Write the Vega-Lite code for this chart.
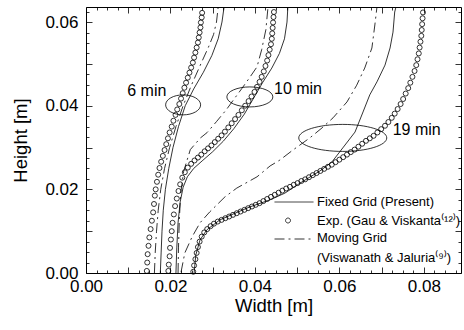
{
  "$schema": "https://vega.github.io/schema/vega-lite/v6.json",
  "width": 375,
  "height": 266,
  "autosize": {"type": "none"},
  "padding": {"left": 86, "top": 7, "right": 3, "bottom": 57},
  "config": {
    "font": "Liberation Sans",
    "view": {"stroke": "black", "strokeWidth": 1},
    "axis": {"grid": false, "domain": false, "tickColor": "black", "labelColor": "black", "titleColor": "black", "titleFontWeight": "normal", "tickWidth": 0.8}
  },
  "datasets": {
    "curves": [
      {"time":"6 min","method":"Exp","x":0.0144,"y":0.0005},{"time":"6 min","method":"Exp","x":0.0145,"y":0.0025},{"time":"6 min","method":"Exp","x":0.0146,"y":0.0045},{"time":"6 min","method":"Exp","x":0.0148,"y":0.0065},{"time":"6 min","method":"Exp","x":0.0150,"y":0.0085},{"time":"6 min","method":"Exp","x":0.0153,"y":0.0105},{"time":"6 min","method":"Exp","x":0.0156,"y":0.0125},{"time":"6 min","method":"Exp","x":0.0159,"y":0.0145},{"time":"6 min","method":"Exp","x":0.0161,"y":0.0165},{"time":"6 min","method":"Exp","x":0.0163,"y":0.0185},{"time":"6 min","method":"Exp","x":0.0165,"y":0.0200},{"time":"6 min","method":"Exp","x":0.0168,"y":0.0218},{"time":"6 min","method":"Exp","x":0.0171,"y":0.0235},{"time":"6 min","method":"Exp","x":0.0174,"y":0.0251},{"time":"6 min","method":"Exp","x":0.0178,"y":0.0266},{"time":"6 min","method":"Exp","x":0.0182,"y":0.0280},{"time":"6 min","method":"Exp","x":0.0186,"y":0.0294},{"time":"6 min","method":"Exp","x":0.0190,"y":0.0308},{"time":"6 min","method":"Exp","x":0.0194,"y":0.0322},{"time":"6 min","method":"Exp","x":0.0198,"y":0.0336},{"time":"6 min","method":"Exp","x":0.0203,"y":0.0350},{"time":"6 min","method":"Exp","x":0.0207,"y":0.0364},{"time":"6 min","method":"Exp","x":0.0212,"y":0.0378},{"time":"6 min","method":"Exp","x":0.0216,"y":0.0391},{"time":"6 min","method":"Exp","x":0.0221,"y":0.0404},{"time":"6 min","method":"Exp","x":0.0225,"y":0.0417},{"time":"6 min","method":"Exp","x":0.0229,"y":0.0430},{"time":"6 min","method":"Exp","x":0.0233,"y":0.0443},{"time":"6 min","method":"Exp","x":0.0237,"y":0.0455},{"time":"6 min","method":"Exp","x":0.0241,"y":0.0467},{"time":"6 min","method":"Exp","x":0.0245,"y":0.0479},{"time":"6 min","method":"Exp","x":0.0249,"y":0.0491},{"time":"6 min","method":"Exp","x":0.0253,"y":0.0503},{"time":"6 min","method":"Exp","x":0.0256,"y":0.0515},{"time":"6 min","method":"Exp","x":0.0259,"y":0.0527},{"time":"6 min","method":"Exp","x":0.0262,"y":0.0539},{"time":"6 min","method":"Exp","x":0.0265,"y":0.0551},{"time":"6 min","method":"Exp","x":0.0267,"y":0.0563},{"time":"6 min","method":"Exp","x":0.0269,"y":0.0575},{"time":"6 min","method":"Exp","x":0.0271,"y":0.0587},{"time":"6 min","method":"Exp","x":0.0272,"y":0.0599},{"time":"6 min","method":"Exp","x":0.0274,"y":0.0611},{"time":"6 min","method":"Exp","x":0.0275,"y":0.0622},
      {"time":"10 min","method":"Exp","x":0.0195,"y":0.0005},{"time":"10 min","method":"Exp","x":0.0196,"y":0.0020},{"time":"10 min","method":"Exp","x":0.0198,"y":0.0040},{"time":"10 min","method":"Exp","x":0.0199,"y":0.0060},{"time":"10 min","method":"Exp","x":0.0201,"y":0.0080},{"time":"10 min","method":"Exp","x":0.0203,"y":0.0100},{"time":"10 min","method":"Exp","x":0.0205,"y":0.0120},{"time":"10 min","method":"Exp","x":0.0208,"y":0.0140},{"time":"10 min","method":"Exp","x":0.0211,"y":0.0160},{"time":"10 min","method":"Exp","x":0.0215,"y":0.0178},{"time":"10 min","method":"Exp","x":0.0219,"y":0.0196},{"time":"10 min","method":"Exp","x":0.0223,"y":0.0212},{"time":"10 min","method":"Exp","x":0.0228,"y":0.0228},{"time":"10 min","method":"Exp","x":0.0234,"y":0.0241},{"time":"10 min","method":"Exp","x":0.0241,"y":0.0252},{"time":"10 min","method":"Exp","x":0.0249,"y":0.0261},{"time":"10 min","method":"Exp","x":0.0257,"y":0.0269},{"time":"10 min","method":"Exp","x":0.0265,"y":0.0276},{"time":"10 min","method":"Exp","x":0.0273,"y":0.0283},{"time":"10 min","method":"Exp","x":0.0281,"y":0.0291},{"time":"10 min","method":"Exp","x":0.0289,"y":0.0298},{"time":"10 min","method":"Exp","x":0.0297,"y":0.0305},{"time":"10 min","method":"Exp","x":0.0305,"y":0.0313},{"time":"10 min","method":"Exp","x":0.0313,"y":0.0321},{"time":"10 min","method":"Exp","x":0.0321,"y":0.0329},{"time":"10 min","method":"Exp","x":0.0329,"y":0.0338},{"time":"10 min","method":"Exp","x":0.0337,"y":0.0348},{"time":"10 min","method":"Exp","x":0.0345,"y":0.0358},{"time":"10 min","method":"Exp","x":0.0353,"y":0.0368},{"time":"10 min","method":"Exp","x":0.0361,"y":0.0378},{"time":"10 min","method":"Exp","x":0.0369,"y":0.0389},{"time":"10 min","method":"Exp","x":0.0377,"y":0.0400},{"time":"10 min","method":"Exp","x":0.0385,"y":0.0411},{"time":"10 min","method":"Exp","x":0.0392,"y":0.0422},{"time":"10 min","method":"Exp","x":0.0399,"y":0.0433},{"time":"10 min","method":"Exp","x":0.0405,"y":0.0445},{"time":"10 min","method":"Exp","x":0.0411,"y":0.0457},{"time":"10 min","method":"Exp","x":0.0416,"y":0.0469},{"time":"10 min","method":"Exp","x":0.0421,"y":0.0482},{"time":"10 min","method":"Exp","x":0.0425,"y":0.0495},{"time":"10 min","method":"Exp","x":0.0429,"y":0.0508},{"time":"10 min","method":"Exp","x":0.0432,"y":0.0521},{"time":"10 min","method":"Exp","x":0.0435,"y":0.0534},{"time":"10 min","method":"Exp","x":0.0438,"y":0.0547},{"time":"10 min","method":"Exp","x":0.0440,"y":0.0560},{"time":"10 min","method":"Exp","x":0.0441,"y":0.0573},{"time":"10 min","method":"Exp","x":0.0442,"y":0.0586},{"time":"10 min","method":"Exp","x":0.0443,"y":0.0599},{"time":"10 min","method":"Exp","x":0.0444,"y":0.0612},{"time":"10 min","method":"Exp","x":0.0445,"y":0.0624},
      {"time":"19 min","method":"Exp","x":0.0254,"y":0.0003},{"time":"19 min","method":"Exp","x":0.0256,"y":0.0018},{"time":"19 min","method":"Exp","x":0.0259,"y":0.0033},{"time":"19 min","method":"Exp","x":0.0262,"y":0.0048},{"time":"19 min","method":"Exp","x":0.0265,"y":0.0062},{"time":"19 min","method":"Exp","x":0.0269,"y":0.0075},{"time":"19 min","method":"Exp","x":0.0274,"y":0.0087},{"time":"19 min","method":"Exp","x":0.0280,"y":0.0097},{"time":"19 min","method":"Exp","x":0.0287,"y":0.0105},{"time":"19 min","method":"Exp","x":0.0295,"y":0.0112},{"time":"19 min","method":"Exp","x":0.0303,"y":0.0118},{"time":"19 min","method":"Exp","x":0.0312,"y":0.0123},{"time":"19 min","method":"Exp","x":0.0321,"y":0.0127},{"time":"19 min","method":"Exp","x":0.0330,"y":0.0131},{"time":"19 min","method":"Exp","x":0.0339,"y":0.0135},{"time":"19 min","method":"Exp","x":0.0348,"y":0.0139},{"time":"19 min","method":"Exp","x":0.0357,"y":0.0143},{"time":"19 min","method":"Exp","x":0.0366,"y":0.0147},{"time":"19 min","method":"Exp","x":0.0375,"y":0.0151},{"time":"19 min","method":"Exp","x":0.0384,"y":0.0155},{"time":"19 min","method":"Exp","x":0.0393,"y":0.0159},{"time":"19 min","method":"Exp","x":0.0402,"y":0.0163},{"time":"19 min","method":"Exp","x":0.0411,"y":0.0167},{"time":"19 min","method":"Exp","x":0.0420,"y":0.0172},{"time":"19 min","method":"Exp","x":0.0429,"y":0.0177},{"time":"19 min","method":"Exp","x":0.0438,"y":0.0182},{"time":"19 min","method":"Exp","x":0.0447,"y":0.0187},{"time":"19 min","method":"Exp","x":0.0456,"y":0.0192},{"time":"19 min","method":"Exp","x":0.0465,"y":0.0197},{"time":"19 min","method":"Exp","x":0.0474,"y":0.0202},{"time":"19 min","method":"Exp","x":0.0483,"y":0.0206},{"time":"19 min","method":"Exp","x":0.0492,"y":0.0211},{"time":"19 min","method":"Exp","x":0.0501,"y":0.0215},{"time":"19 min","method":"Exp","x":0.0510,"y":0.0220},{"time":"19 min","method":"Exp","x":0.0519,"y":0.0224},{"time":"19 min","method":"Exp","x":0.0528,"y":0.0229},{"time":"19 min","method":"Exp","x":0.0537,"y":0.0234},{"time":"19 min","method":"Exp","x":0.0546,"y":0.0239},{"time":"19 min","method":"Exp","x":0.0555,"y":0.0244},{"time":"19 min","method":"Exp","x":0.0564,"y":0.0249},{"time":"19 min","method":"Exp","x":0.0573,"y":0.0254},{"time":"19 min","method":"Exp","x":0.0582,"y":0.0259},{"time":"19 min","method":"Exp","x":0.0591,"y":0.0265},{"time":"19 min","method":"Exp","x":0.0600,"y":0.0271},{"time":"19 min","method":"Exp","x":0.0609,"y":0.0277},{"time":"19 min","method":"Exp","x":0.0618,"y":0.0283},{"time":"19 min","method":"Exp","x":0.0627,"y":0.0289},{"time":"19 min","method":"Exp","x":0.0636,"y":0.0295},{"time":"19 min","method":"Exp","x":0.0645,"y":0.0302},{"time":"19 min","method":"Exp","x":0.0654,"y":0.0309},{"time":"19 min","method":"Exp","x":0.0663,"y":0.0316},{"time":"19 min","method":"Exp","x":0.0672,"y":0.0322},{"time":"19 min","method":"Exp","x":0.0681,"y":0.0328},{"time":"19 min","method":"Exp","x":0.0690,"y":0.0336},{"time":"19 min","method":"Exp","x":0.0699,"y":0.0344},{"time":"19 min","method":"Exp","x":0.0708,"y":0.0352},{"time":"19 min","method":"Exp","x":0.0716,"y":0.0361},{"time":"19 min","method":"Exp","x":0.0724,"y":0.0371},{"time":"19 min","method":"Exp","x":0.0731,"y":0.0381},{"time":"19 min","method":"Exp","x":0.0738,"y":0.0392},{"time":"19 min","method":"Exp","x":0.0745,"y":0.0404},{"time":"19 min","method":"Exp","x":0.0751,"y":0.0416},{"time":"19 min","method":"Exp","x":0.0757,"y":0.0429},{"time":"19 min","method":"Exp","x":0.0763,"y":0.0442},{"time":"19 min","method":"Exp","x":0.0768,"y":0.0455},{"time":"19 min","method":"Exp","x":0.0773,"y":0.0469},{"time":"19 min","method":"Exp","x":0.0778,"y":0.0483},{"time":"19 min","method":"Exp","x":0.0782,"y":0.0497},{"time":"19 min","method":"Exp","x":0.0785,"y":0.0511},{"time":"19 min","method":"Exp","x":0.0788,"y":0.0525},{"time":"19 min","method":"Exp","x":0.0790,"y":0.0539},{"time":"19 min","method":"Exp","x":0.0792,"y":0.0553},{"time":"19 min","method":"Exp","x":0.0794,"y":0.0567},{"time":"19 min","method":"Exp","x":0.0795,"y":0.0581},{"time":"19 min","method":"Exp","x":0.0796,"y":0.0595},{"time":"19 min","method":"Exp","x":0.0797,"y":0.0609},{"time":"19 min","method":"Exp","x":0.0798,"y":0.0623},
      {"time":"6 min","method":"Fixed","x":0.0176,"y":0.0},{"time":"6 min","method":"Fixed","x":0.0178,"y":0.005},{"time":"6 min","method":"Fixed","x":0.0180,"y":0.010},{"time":"6 min","method":"Fixed","x":0.0183,"y":0.015},{"time":"6 min","method":"Fixed","x":0.0188,"y":0.020},{"time":"6 min","method":"Fixed","x":0.0196,"y":0.025},{"time":"6 min","method":"Fixed","x":0.0206,"y":0.030},{"time":"6 min","method":"Fixed","x":0.0219,"y":0.035},{"time":"6 min","method":"Fixed","x":0.0235,"y":0.040},{"time":"6 min","method":"Fixed","x":0.0255,"y":0.044},{"time":"6 min","method":"Fixed","x":0.0278,"y":0.048},{"time":"6 min","method":"Fixed","x":0.0298,"y":0.052},{"time":"6 min","method":"Fixed","x":0.0313,"y":0.056},{"time":"6 min","method":"Fixed","x":0.0322,"y":0.060},{"time":"6 min","method":"Fixed","x":0.0327,"y":0.0636},
      {"time":"10 min","method":"Fixed","x":0.0213,"y":0.0},{"time":"10 min","method":"Fixed","x":0.0215,"y":0.006},{"time":"10 min","method":"Fixed","x":0.0218,"y":0.012},{"time":"10 min","method":"Fixed","x":0.0223,"y":0.017},{"time":"10 min","method":"Fixed","x":0.0230,"y":0.0205},{"time":"10 min","method":"Fixed","x":0.0240,"y":0.023},{"time":"10 min","method":"Fixed","x":0.0255,"y":0.025},{"time":"10 min","method":"Fixed","x":0.0275,"y":0.0268},{"time":"10 min","method":"Fixed","x":0.0300,"y":0.029},{"time":"10 min","method":"Fixed","x":0.0325,"y":0.0315},{"time":"10 min","method":"Fixed","x":0.0350,"y":0.0345},{"time":"10 min","method":"Fixed","x":0.0375,"y":0.038},{"time":"10 min","method":"Fixed","x":0.0398,"y":0.042},{"time":"10 min","method":"Fixed","x":0.0418,"y":0.0455},{"time":"10 min","method":"Fixed","x":0.0440,"y":0.049},{"time":"10 min","method":"Fixed","x":0.0458,"y":0.0525},{"time":"10 min","method":"Fixed","x":0.0470,"y":0.056},{"time":"10 min","method":"Fixed","x":0.0476,"y":0.060},{"time":"10 min","method":"Fixed","x":0.0478,"y":0.0636},
      {"time":"19 min","method":"Fixed","x":0.0256,"y":0.0},{"time":"19 min","method":"Fixed","x":0.0260,"y":0.0043},{"time":"19 min","method":"Fixed","x":0.0270,"y":0.0079},{"time":"19 min","method":"Fixed","x":0.0286,"y":0.0103},{"time":"19 min","method":"Fixed","x":0.0317,"y":0.0127},{"time":"19 min","method":"Fixed","x":0.0353,"y":0.0143},{"time":"19 min","method":"Fixed","x":0.0388,"y":0.0158},{"time":"19 min","method":"Fixed","x":0.0436,"y":0.0175},{"time":"19 min","method":"Fixed","x":0.0471,"y":0.0191},{"time":"19 min","method":"Fixed","x":0.0507,"y":0.0215},{"time":"19 min","method":"Fixed","x":0.0554,"y":0.0244},{"time":"19 min","method":"Fixed","x":0.0582,"y":0.0265},{"time":"19 min","method":"Fixed","x":0.0608,"y":0.0299},{"time":"19 min","method":"Fixed","x":0.0637,"y":0.0337},{"time":"19 min","method":"Fixed","x":0.0656,"y":0.0385},{"time":"19 min","method":"Fixed","x":0.0672,"y":0.0426},{"time":"19 min","method":"Fixed","x":0.0689,"y":0.0457},{"time":"19 min","method":"Fixed","x":0.0708,"y":0.0497},{"time":"19 min","method":"Fixed","x":0.0720,"y":0.0538},{"time":"19 min","method":"Fixed","x":0.0727,"y":0.0576},{"time":"19 min","method":"Fixed","x":0.0731,"y":0.0624},{"time":"19 min","method":"Fixed","x":0.0734,"y":0.0636},
      {"time":"6 min","method":"Moving","x":0.0162,"y":0.0},{"time":"6 min","method":"Moving","x":0.0164,"y":0.005},{"time":"6 min","method":"Moving","x":0.0167,"y":0.010},{"time":"6 min","method":"Moving","x":0.0171,"y":0.015},{"time":"6 min","method":"Moving","x":0.0177,"y":0.020},{"time":"6 min","method":"Moving","x":0.0186,"y":0.025},{"time":"6 min","method":"Moving","x":0.0198,"y":0.030},{"time":"6 min","method":"Moving","x":0.0213,"y":0.035},{"time":"6 min","method":"Moving","x":0.0230,"y":0.040},{"time":"6 min","method":"Moving","x":0.0250,"y":0.045},{"time":"6 min","method":"Moving","x":0.0272,"y":0.050},{"time":"6 min","method":"Moving","x":0.0290,"y":0.054},{"time":"6 min","method":"Moving","x":0.0302,"y":0.057},{"time":"6 min","method":"Moving","x":0.0309,"y":0.060},{"time":"6 min","method":"Moving","x":0.0313,"y":0.0636},
      {"time":"10 min","method":"Moving","x":0.0218,"y":0.0},{"time":"10 min","method":"Moving","x":0.0219,"y":0.006},{"time":"10 min","method":"Moving","x":0.0221,"y":0.0127},{"time":"10 min","method":"Moving","x":0.0224,"y":0.0187},{"time":"10 min","method":"Moving","x":0.0231,"y":0.0242},{"time":"10 min","method":"Moving","x":0.0247,"y":0.0295},{"time":"10 min","method":"Moving","x":0.0271,"y":0.0323},{"time":"10 min","method":"Moving","x":0.0287,"y":0.0336},{"time":"10 min","method":"Moving","x":0.0309,"y":0.0362},{"time":"10 min","method":"Moving","x":0.0332,"y":0.039},{"time":"10 min","method":"Moving","x":0.0350,"y":0.0415},{"time":"10 min","method":"Moving","x":0.0369,"y":0.0441},{"time":"10 min","method":"Moving","x":0.0388,"y":0.0468},{"time":"10 min","method":"Moving","x":0.0405,"y":0.0493},{"time":"10 min","method":"Moving","x":0.0416,"y":0.0534},{"time":"10 min","method":"Moving","x":0.0426,"y":0.0582},{"time":"10 min","method":"Moving","x":0.0431,"y":0.0636},
      {"time":"19 min","method":"Moving","x":0.0225,"y":0.0002},{"time":"19 min","method":"Moving","x":0.0234,"y":0.0048},{"time":"19 min","method":"Moving","x":0.0251,"y":0.0086},{"time":"19 min","method":"Moving","x":0.0270,"y":0.0120},{"time":"19 min","method":"Moving","x":0.0293,"y":0.0146},{"time":"19 min","method":"Moving","x":0.0329,"y":0.0182},{"time":"19 min","method":"Moving","x":0.0357,"y":0.0203},{"time":"19 min","method":"Moving","x":0.0405,"y":0.0230},{"time":"19 min","method":"Moving","x":0.0436,"y":0.0256},{"time":"19 min","method":"Moving","x":0.0459,"y":0.0270},{"time":"19 min","method":"Moving","x":0.0490,"y":0.0294},{"time":"19 min","method":"Moving","x":0.0530,"y":0.0323},{"time":"19 min","method":"Moving","x":0.0559,"y":0.0347},{"time":"19 min","method":"Moving","x":0.0585,"y":0.0371},{"time":"19 min","method":"Moving","x":0.0618,"y":0.0409},{"time":"19 min","method":"Moving","x":0.0641,"y":0.0449},{"time":"19 min","method":"Moving","x":0.0660,"y":0.0490},{"time":"19 min","method":"Moving","x":0.0677,"y":0.0538},{"time":"19 min","method":"Moving","x":0.0684,"y":0.0593},{"time":"19 min","method":"Moving","x":0.0689,"y":0.0636}
    ],
    "notes": [
      {"time":"6 min","lx":0.0144,"ly":0.0435,"ex":0.0230,"ey":0.0402},
      {"time":"10 min","lx":0.0502,"ly":0.0440,"ex":0.0388,"ey":0.0421},
      {"time":"19 min","lx":0.0783,"ly":0.0342,"ex":0.0608,"ey":0.0323}
    ]
  },
  "resolve": {"axis": {"x": "independent", "y": "independent"}},
  "layer": [
    {
      "data": {"name": "curves"},
      "transform": [{"filter": "datum.method == 'Fixed'"}],
      "mark": {"type": "line", "strokeWidth": 0.8},
      "encoding": {
        "x": {"field": "x", "type": "quantitative", "scale": {"domain": [0, 0.0888], "nice": false, "zero": false},
          "axis": {"orient": "bottom", "values": [0, 0.01, 0.02, 0.03, 0.04, 0.05, 0.06, 0.07, 0.08], "labelExpr": "round(datum.value*100) % 2 == 0 ? format(datum.value, '.2f') : ''", "tickSize": -6, "labelPadding": 11, "labelFontSize": 17, "labelFlush": false, "title": "Width [m]", "titleFontSize": 18.5, "titlePadding": 2}},
        "y": {"field": "y", "type": "quantitative", "scale": {"domain": [0, 0.0636], "nice": false, "zero": false},
          "axis": {"orient": "left", "values": [0, 0.01, 0.02, 0.03, 0.04, 0.05, 0.06], "labelExpr": "round(datum.value*100) % 2 == 0 ? format(datum.value, '.2f') : ''", "tickSize": -6, "labelPadding": 14, "labelFontSize": 17, "labelFlush": false, "title": "Height [m]", "titleFontSize": 18.5, "titlePadding": 14}},
        "color": {"field": "method", "type": "nominal", "scale": {"domain": ["Fixed", "Exp", "Moving"], "range": ["black", "black", "black"]},
          "legend": {"orient": "none", "legendX": 182, "legendY": 188, "title": null, "padding": 0, "symbolType": "stroke", "symbolSize": 169, "symbolStrokeWidth": 0.8, "symbolOffset": 19, "labelFontSize": 13, "labelOffset": 16, "rowPadding": 4.5,
            "labelExpr": "datum.value == 'Fixed' ? 'Fixed Grid (Present)' : datum.value == 'Exp' ? 'Exp. (Gau & Viskanta⁽¹²⁾)' : ['Moving Grid', '(Viswanath & Jaluria⁽⁹⁾)']",
            "encode": {
              "symbols": {"update": {
                "shape": {"signal": "datum.value == 'Exp' ? 'M-1.3,0A0.38,0.38 0 1,1 -0.54,0A0.38,0.38 0 1,1 -1.3,0Z' : 'M-3,0H3'"},
                "strokeDash": {"signal": "datum.value == 'Moving' ? [10, 4, 2, 4] : [1, 0]"},
                "fill": {"value": "transparent"},
                "stroke": {"value": "black"}
              }},
              "labels": {"update": {
                "baseline": {"signal": "datum.value == 'Moving' ? 'top' : 'middle'"},
                "dy": {"signal": "datum.value == 'Moving' ? -7 : 0"},
                "lineHeight": {"value": 20}
              }}
            }}},
        "detail": {"field": "time"},
        "order": {"field": "y", "type": "quantitative"}
      }
    },
    {
      "data": {"name": "curves"},
      "transform": [{"filter": "datum.method == 'Moving'"}],
      "mark": {"type": "line", "strokeWidth": 0.8, "strokeDash": [10, 4, 2, 4]},
      "encoding": {
        "x": {"field": "x", "type": "quantitative", "axis": {"orient": "bottom", "values": [0.0025,0.005,0.0075,0.0125,0.015,0.0175,0.0225,0.025,0.0275,0.0325,0.035,0.0375,0.0425,0.045,0.0475,0.0525,0.055,0.0575,0.0625,0.065,0.0675,0.0725,0.075,0.0775,0.0825,0.085,0.0875], "labels": false, "tickSize": -3, "title": null}},
        "y": {"field": "y", "type": "quantitative", "axis": {"orient": "left", "values": [0.0025,0.005,0.0075,0.0125,0.015,0.0175,0.0225,0.025,0.0275,0.0325,0.035,0.0375,0.0425,0.045,0.0475,0.0525,0.055,0.0575,0.0625], "labels": false, "tickSize": -3, "title": null}},
        "color": {"field": "method", "type": "nominal"},
        "detail": {"field": "time"},
        "order": {"field": "y", "type": "quantitative"}
      }
    },
    {
      "data": {"name": "curves"},
      "transform": [{"filter": "datum.method == 'Exp'"}],
      "mark": {"type": "point", "shape": "circle", "filled": false, "size": 25, "strokeWidth": 0.8, "opacity": 1},
      "encoding": {
        "x": {"field": "x", "type": "quantitative", "axis": {"orient": "top", "values": [0, 0.01, 0.02, 0.03, 0.04, 0.05, 0.06, 0.07, 0.08], "labels": false, "tickSize": -6, "title": null}},
        "y": {"field": "y", "type": "quantitative", "axis": {"orient": "right", "values": [0, 0.01, 0.02, 0.03, 0.04, 0.05, 0.06], "labels": false, "tickSize": -6, "title": null}},
        "color": {"field": "method", "type": "nominal"}
      }
    },
    {
      "data": {"name": "notes"},
      "mark": {"type": "text", "fontSize": 16, "align": "center", "baseline": "middle", "color": "black"},
      "encoding": {
        "x": {"field": "lx", "type": "quantitative", "axis": {"orient": "top", "values": [0.0025,0.005,0.0075,0.0125,0.015,0.0175,0.0225,0.025,0.0275,0.0325,0.035,0.0375,0.0425,0.045,0.0475,0.0525,0.055,0.0575,0.0625,0.065,0.0675,0.0725,0.075,0.0775,0.0825,0.085,0.0875], "labels": false, "tickSize": -3, "title": null}},
        "y": {"field": "ly", "type": "quantitative", "axis": {"orient": "right", "values": [0.0025,0.005,0.0075,0.0125,0.015,0.0175,0.0225,0.025,0.0275,0.0325,0.035,0.0375,0.0425,0.045,0.0475,0.0525,0.055,0.0575,0.0625], "labels": false, "tickSize": -3, "title": null}},
        "text": {"field": "time"}
      }
    },
    {
      "data": {"name": "notes"},
      "transform": [{"filter": "datum.time == '6 min'"}],
      "mark": {"type": "point", "shape": "M-1,0A1,0.571 0 1,1 1,0A1,0.571 0 1,1 -1,0Z", "size": 1225, "filled": false, "stroke": "black", "strokeWidth": 0.8, "opacity": 1},
      "encoding": {
        "x": {"field": "ex", "type": "quantitative", "axis": null},
        "y": {"field": "ey", "type": "quantitative", "axis": null}
      }
    },
    {
      "data": {"name": "notes"},
      "transform": [{"filter": "datum.time == '10 min'"}],
      "mark": {"type": "point", "shape": "M-1,0A1,0.435 0 1,1 1,0A1,0.435 0 1,1 -1,0Z", "size": 2116, "filled": false, "stroke": "black", "strokeWidth": 0.8, "opacity": 1},
      "encoding": {
        "x": {"field": "ex", "type": "quantitative", "axis": null},
        "y": {"field": "ey", "type": "quantitative", "axis": null}
      }
    },
    {
      "data": {"name": "notes"},
      "transform": [{"filter": "datum.time == '19 min'"}],
      "mark": {"type": "point", "shape": "M-1,0A1,0.307 0 1,1 1,0A1,0.307 0 1,1 -1,0Z", "size": 7744, "filled": false, "stroke": "black", "strokeWidth": 0.8, "opacity": 1},
      "encoding": {
        "x": {"field": "ex", "type": "quantitative", "axis": null},
        "y": {"field": "ey", "type": "quantitative", "axis": null}
      }
    }
  ]
}
